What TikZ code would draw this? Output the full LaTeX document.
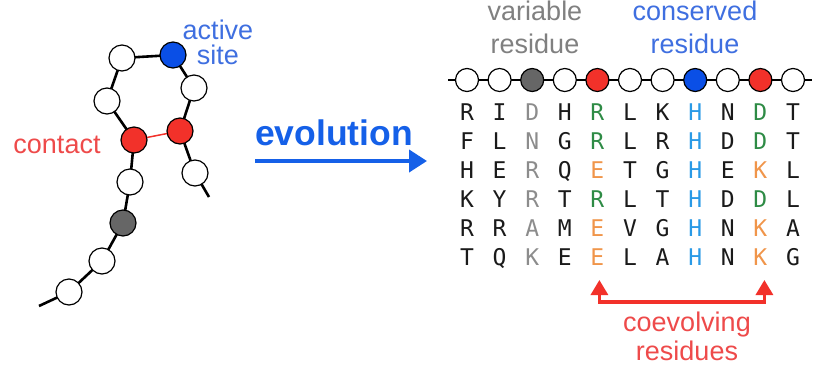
\documentclass[tikz,border=0pt]{standalone}
\usepackage{fontspec}
\setmainfont{Liberation Sans}
\newfontfamily\monofont{DejaVu Sans Mono}
\usetikzlibrary{backgrounds,calc,arrows.meta}

\definecolor{beadred}{HTML}{F2312A}
\definecolor{beadblue}{HTML}{0A4FE6}
\definecolor{beadgray}{HTML}{666666}
\definecolor{evoblue}{HTML}{1560E8}
\definecolor{sitetext}{HTML}{3F6FE0}
\definecolor{redtext}{HTML}{EE4A4A}
\definecolor{graytext}{HTML}{808080}
\definecolor{ink}{HTML}{1A1A1A}
\definecolor{vary}{HTML}{8C8C8C}
\definecolor{cons}{HTML}{2A9AE6}
\definecolor{same}{HTML}{2E8B45}
\definecolor{swap}{HTML}{F0954A}

\begin{document}
\begin{tikzpicture}[x=1pt,y=-1pt,
  bead/.style={circle,draw=black,line width=1.2pt,fill=white,inner sep=0pt},
  bigbead/.style={bead,minimum size=26pt},
  smallbead/.style={bead,minimum size=23pt},
  backbone/.style={line width=2.6pt,black},
  res/.style={font=\monofont\fontsize{23}{23}\selectfont,inner sep=0pt,
              text height=17pt,text depth=0pt},
  lab/.style={font=\fontsize{27}{31}\selectfont,align=center,inner sep=0pt},
]
\useasboundingbox (0,0) rectangle (819,365);

% folded chain
\coordinate (e0) at (39,306);
\node[bigbead] (p1) at (69,292) {};
\node[bigbead] (p2) at (102,261) {};
\node[bigbead,fill=beadgray] (p3) at (123,223) {};
\node[bigbead] (p4) at (130,182) {};
\node[bigbead,fill=beadred] (p5) at (134,140) {};
\node[bigbead] (p6) at (107,101) {};
\node[bigbead] (p7) at (122,58) {};
\node[bigbead,fill=beadblue] (p8) at (173,55) {};
\node[bigbead] (p9) at (194,88) {};
\node[bigbead,fill=beadred] (p10) at (180,131) {};
\node[bigbead] (p11) at (195,173) {};
\coordinate (e12) at (209,197);

\begin{scope}[on background layer]
  \draw[backbone] (e0) -- (p1.center) -- (p2.center) -- (p3.center) -- (p4.center)
    -- (p5.center) -- (p6.center) -- (p7.center) -- (p8.center) -- (p9.center)
    -- (p10.center) -- (p11.center) -- (e12);
  \draw[beadred,line width=1.5pt] (p5.center) -- (p10.center);
\end{scope}

% multi-line labels are anchored on the baseline of their last line
\node[lab,text=sitetext,anchor=base,font=\fontsize{27}{25}\selectfont] (site) at (218,64) {active\\site};
\node[lab,text=redtext,anchor=base] (contact) at (57,153) {contact};

% evolution arrow
\node[font=\bfseries\fontsize{35.5}{36}\selectfont,text=evoblue,inner sep=0pt,anchor=base] (evo) at (334,145) {evolution};
\coordinate (evoA) at (255,161);
\coordinate (evoB) at (427,161);
\draw[evoblue,line width=4pt,-{Triangle[length=18pt,width=22pt]}] (evoA) -- (evoB);

% straight chain with aligned sequences
\coordinate (sL) at (448,80);
\coordinate (sR) at (812,80);
\foreach \f [count=\i] in {white,white,beadgray,white,beadred,white,white,beadblue,white,beadred,white}
  \node[smallbead,fill=\f] (s\i) at ({467+32.6*(\i-1)},80) {};
\begin{scope}[on background layer]
  \draw[backbone] (sL) -- (sR);
\end{scope}

\foreach \row [count=\r] in {
  {R/ink,I/ink,D/vary,H/ink,R/same,L/ink,K/ink,H/cons,N/ink,D/same,T/ink},
  {F/ink,L/ink,N/vary,G/ink,R/same,L/ink,R/ink,H/cons,D/ink,D/same,T/ink},
  {H/ink,E/ink,R/vary,Q/ink,E/swap,T/ink,G/ink,H/cons,E/ink,K/swap,L/ink},
  {K/ink,Y/ink,R/vary,T/ink,R/same,L/ink,T/ink,H/cons,D/ink,D/same,L/ink},
  {R/ink,R/ink,A/vary,M/ink,E/swap,V/ink,G/ink,H/cons,N/ink,K/swap,A/ink},
  {T/ink,Q/ink,K/vary,E/ink,E/swap,L/ink,A/ink,H/cons,N/ink,K/swap,G/ink}}
{
  \foreach \ch/\col [count=\c] in \row
    \node[res,text=\col] (l-\r-\c) at ({467+32.6*(\c-1)},{112+29*(\r-1)}) {\ch};
}

\node[lab,text=graytext,anchor=base,font=\fontsize{27}{33}\selectfont] (varlab) at (535,53) {variable\\residue};
\node[lab,text=sitetext,anchor=base,font=\fontsize{27}{33}\selectfont] (conlab) at (695,53) {conserved\\residue};

% coevolving pair bracket
\coordinate (tipE) at ($(l-6-5)+(2,23)$);
\coordinate (tipK) at ($(l-6-10)+(4,23)$);
\draw[beadred,line width=3.2pt,{Triangle[length=15pt,width=17pt]}-{Triangle[length=15pt,width=17pt]}]
  (tipE) -- ++(0,22) -| (tipK);
\node[lab,text=redtext,anchor=base,font=\fontsize{27}{29}\selectfont] (coev) at (687,360) {coevolving\\residues};
\end{tikzpicture}
\end{document}
